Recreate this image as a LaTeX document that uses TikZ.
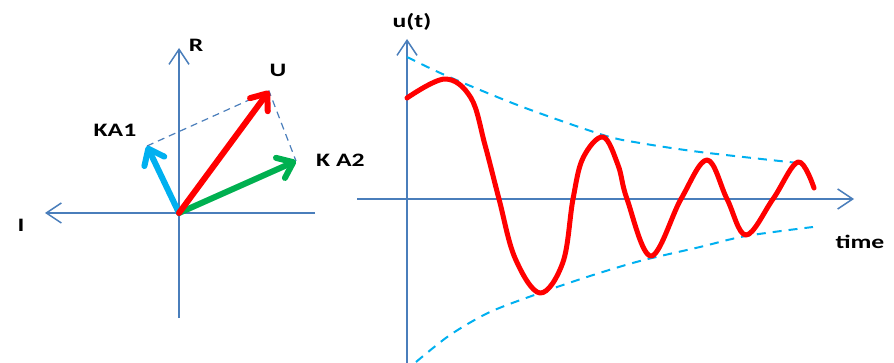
\documentclass[tikz,border=0pt]{standalone}
\usepackage{fontspec}
\setmainfont{Carlito}
\newfontfamily\lblfont[FakeStretch=1.35]{Carlito}
\usepackage{xcolor}
\usetikzlibrary{arrows.meta}

\definecolor{axisblue}{RGB}{74,126,187}
\definecolor{vecred}{RGB}{255,0,0}
\definecolor{vecgreen}{RGB}{0,176,80}
\definecolor{veccyan}{RGB}{0,176,240}

\begin{document}
\begin{tikzpicture}[x=1pt, y=-1pt,
  axis/.style={draw=axisblue, line width=1.5pt,
               -{Straight Barb[length=15pt, width=20pt]}},
  vec/.style={line width=6pt, line cap=round,
              -{Straight Barb[length=14pt, width=22pt, round]}},
  proj/.style={draw=axisblue, line width=1.2pt, dash pattern=on 7pt off 5pt},
  env/.style={draw=veccyan, line width=2pt, dash pattern=on 9pt off 7pt},
  signal/.style={draw=vecred, line width=5pt, line cap=round, line join=round},
  lbl/.style={font=\lblfont\bfseries\fontsize{19}{22}\selectfont, inner sep=0pt},
]
\useasboundingbox (0,0) rectangle (894,363);

% --- Phasor diagram: points ---
\coordinate (O)     at (179,213);
\coordinate (Rtop)  at (179,48);
\coordinate (Rbot)  at (179,318);
\coordinate (Ileft) at (45,213);
\coordinate (Iright) at (315,213);
\coordinate (tipU)  at (269,91);
\coordinate (tipA1) at (147,146);
\coordinate (tipA2) at (296,161);

% --- Phasor diagram: axes and labels ---
\draw[axis] (Rbot) -- (Rtop);
\draw[axis] (Iright) -- (Ileft);
\node[lbl] (R)   at (196,45)  {R};
\node[lbl] (I)   at (21,225)  {I};
\node[lbl] (U)   at (278,70)  {U};
\node[lbl] (KA1) at (115,130) {KA1};
\node[lbl, anchor=west] (KA2) at (316,160) {K A2};

% --- Parallelogram sides (dashed, under the vectors) ---
\draw[proj] (tipA1) -- (tipU) -- (tipA2);

% --- Vectors ---
\draw[vec, veccyan]  (O) -- (tipA1);
\draw[vec, vecgreen] (O) -- (tipA2);
\draw[vec, vecred]   (O) -- (tipU);

% --- Time plot: axes and labels ---
\coordinate (T0)    at (407,199);
\coordinate (utop)  at (407,39);
\coordinate (ubot)  at (407,363);
\coordinate (tleft) at (357,199);
\coordinate (tright) at (854,199);
\draw[axis] (ubot) -- (utop);
\draw[axis] (tleft) -- (tright);
\node[lbl] (ut)   at (412,22)  {u(t)};
\node[lbl] (time) at (860,242) {time};

% --- Envelopes ---
\draw[env] plot[smooth] coordinates {(407,57) (447,76) (520,106) (603,135)
  (640,143) (700,152) (798,163)};
\draw[env] plot[smooth] coordinates {(416,362) (450,335) (490,312) (540,293)
  (590,276) (640,261) (700,247) (746,236) (813,227)};

% --- Damped oscillation ---
\draw[signal] plot[smooth, tension=0.6] coordinates {
  (407,98) (445,79) (471,98) (485,145) (499,199) (515,258) (540,293)
  (563,262) (573,199) (583,158) (603,137) (618,165) (627,199)
  (651,256) (681,199) (707,160) (727,199) (746,235) (773,199)
  (798,162) (814,188)};
\end{tikzpicture}
\end{document}
